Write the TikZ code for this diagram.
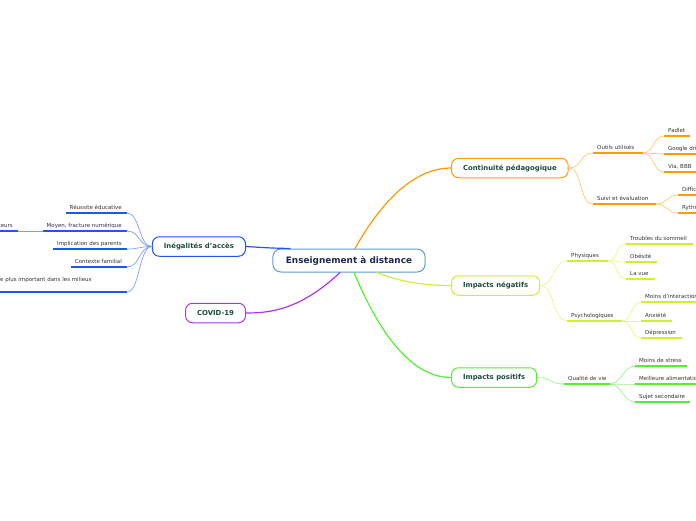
\documentclass[tikz,border=0pt]{standalone}
\usepackage{fontspec}
\setmainfont{DejaVu Sans}
\usetikzlibrary{positioning}

\definecolor{rootC}{HTML}{5B9BD5}
\definecolor{rootT}{HTML}{1B2A52}
\definecolor{topT}{HTML}{1D4D3C}
\definecolor{leafT}{HTML}{333333}
\definecolor{orgC}{HTML}{FF9A00}
\definecolor{orgL}{HTML}{FFC870}
\definecolor{ylwC}{HTML}{D2F02A}
\definecolor{ylwL}{HTML}{E6F885}
\definecolor{grnC}{HTML}{55EE33}
\definecolor{grnL}{HTML}{9CF38A}
\definecolor{bluC}{HTML}{1F55F0}
\definecolor{bluL}{HTML}{7F9DF8}
\definecolor{purC}{HTML}{B033EE}

% one underlined label, text on the right of the line start
\newcommand{\leafR}[6]{%
  \coordinate (#1-a) at (#2,#4);
  \coordinate (#1-b) at (#3,#4);
  \draw[uline, #6] (#1-a) -- (#1-b);
  \node[leaftxt, anchor=base west] (#1) at ([xshift=4pt, yshift=4pt]#1-a) {#5};}
% same, text set flush to the right end of the line
\newcommand{\leafL}[6]{%
  \coordinate (#1-a) at (#2,#4);
  \coordinate (#1-b) at (#3,#4);
  \draw[uline, #6] (#1-a) -- (#1-b);
  \node[leaftxt, anchor=base east] (#1) at ([xshift=-5pt, yshift=4pt]#1-b) {#5};}

\begin{document}
\begin{tikzpicture}[x=1pt, y=-1pt, line cap=round, line join=round,
  root/.style={draw=rootC, line width=1pt, rounded corners=8pt, fill=white,
    text=rootT, font=\fontsize{8.9}{10}\selectfont\bfseries,
    minimum height=23pt, inner xsep=13pt},
  topic/.style={draw, line width=1pt, rounded corners=7pt, fill=white,
    text=topT, font=\fontsize{6.9}{8}\selectfont\bfseries,
    minimum height=19.5pt, inner xsep=11.5pt},
  leaftxt/.style={text=leafT, font=\fontsize{5.5}{6.5}\selectfont, inner sep=0pt},
  uline/.style={line width=2pt, line cap=butt},
  branch/.style={line width=1.2pt},
  twig/.style={line width=0.7pt}]

  \useasboundingbox (0,0) rectangle (696,520);
  \clip (0,0) rectangle (696,520);

  % main topics
  \node[root] (root) at (349,260.5) {Enseignement à distance};
  \node[topic, draw=orgC, anchor=west] (cont) at (451,168) {Continuité pédagogique};
  \node[topic, draw=ylwC, anchor=west] (neg) at (451,285.5) {Impacts négatifs};
  \node[topic, draw=grnC, anchor=west] (pos) at (451,377.5) {Impacts positifs};
  \node[topic, draw=bluC, anchor=east] (ineg) at (246,246.5) {Inégalités d'accès};
  \node[topic, draw=purC, anchor=east] (covid) at (246,313) {COVID-19};

  % branches from the centre
  \draw[branch, orgC] ([xshift=6pt]root.north) .. controls (385,195) and (418,168) .. (cont.west);
  \draw[branch, ylwC] ([xshift=28pt]root.south) .. controls (400,282) and (425,285.5) .. (neg.west);
  \draw[branch, grnC] ([xshift=5pt]root.south) .. controls (378,330) and (410,377.5) .. (pos.west);
  \draw[branch, bluC] ([xshift=-59pt]root.north) .. controls (270,248) .. (ineg.east);
  \draw[branch, purC] ([xshift=-9pt]root.south) .. controls (300,310) and (270,313) .. (covid.east);

  % Continuite pedagogique
  \leafR{outils}{593}{643}{153}{Outils utilisés}{orgC}
  \leafR{suivi}{593}{656}{204}{Suivi et évaluation}{orgC}
  \leafR{padlet}{664}{690}{136}{Padlet}{orgC}
  \leafR{gdrive}{664}{696}{154}{Google drive}{orgC}
  \leafR{viabbb}{664}{696}{172}{Via, BBB}{orgC}
  \leafR{diffi}{678}{696}{195}{Difficultés}{orgC}
  \leafR{ryth}{678}{696}{213}{Rythme}{orgC}
  \foreach \c in {outils,suivi}
    \draw[twig, orgL] (cont.east) .. controls +(14,0) and +(-14,0) .. (\c-a);
  \foreach \c in {padlet,gdrive,viabbb}
    \draw[twig, orgL] (outils-b) .. controls +(11,0) and +(-11,0) .. (\c-a);
  \foreach \c in {diffi,ryth}
    \draw[twig, orgL] (suivi-b) .. controls +(11,0) and +(-11,0) .. (\c-a);

  % Impacts negatifs
  \leafR{phys}{567}{608}{261}{Physiques}{ylwC}
  \leafR{psy}{567}{622}{321}{Psychologiques}{ylwC}
  \leafR{sommeil}{626}{693}{244}{Troubles du sommeil}{ylwC}
  \leafR{obes}{626}{657}{262}{Obésité}{ylwC}
  \leafR{vue}{626}{655}{279}{La vue}{ylwC}
  \leafR{interac}{641}{696}{302}{Moins d'interaction}{ylwC}
  \leafR{anx}{641}{672}{321}{Anxiété}{ylwC}
  \leafR{depr}{641}{682}{338}{Dépression}{ylwC}
  \foreach \c in {phys,psy}
    \draw[twig, ylwL] (neg.east) .. controls +(14,0) and +(-14,0) .. (\c-a);
  \foreach \c in {sommeil,obes,vue}
    \draw[twig, ylwL] (phys-b) .. controls +(10,0) and +(-10,0) .. (\c-a);
  \foreach \c in {interac,anx,depr}
    \draw[twig, ylwL] (psy-b) .. controls +(10,0) and +(-10,0) .. (\c-a);

  % Impacts positifs
  \leafR{qual}{564}{610}{384}{Qualité de vie}{grnC}
  \leafR{stress}{635}{687}{366}{Moins de stress}{grnC}
  \leafR{alim}{635}{696}{384}{Meilleure alimentation}{grnC}
  \leafR{sujet}{635}{690}{402}{Sujet secondaire}{grnC}
  \draw[twig, grnL] (pos.east) .. controls +(14,0) and +(-14,0) .. (qual-a);
  \foreach \c in {stress,alim,sujet}
    \draw[twig, grnL] (qual-b) .. controls +(11,0) and +(-11,0) .. (\c-a);

  % Inegalites d'acces
  \leafL{reuss}{66}{127}{213}{Réussite éducative}{bluC}
  \leafL{moyen}{43}{127}{231}{Moyen, fracture numérique}{bluC}
  \leafL{parents}{53}{127}{249}{Implication des parents}{bluC}
  \leafL{famil}{71}{127}{267}{Contexte familial}{bluC}
  \leafL{teurs}{-10}{18}{231}{teurs}{bluC}
  \coordinate (milieux-a) at (-10,292);
  \coordinate (milieux-b) at (127,292);
  \draw[uline, bluC] (milieux-a) -- (milieux-b);
  \node[leaftxt, anchor=base west] (milieux) at (0,281) {e plus important dans les milieux};
  \foreach \c in {reuss,moyen,parents,famil,milieux}
    \draw[twig, bluL] (ineg.west) .. controls +(-13,0) and +(13,0) .. (\c-b);
  \draw[twig, bluL] (moyen-a) -- (teurs-b);
\end{tikzpicture}
\end{document}
